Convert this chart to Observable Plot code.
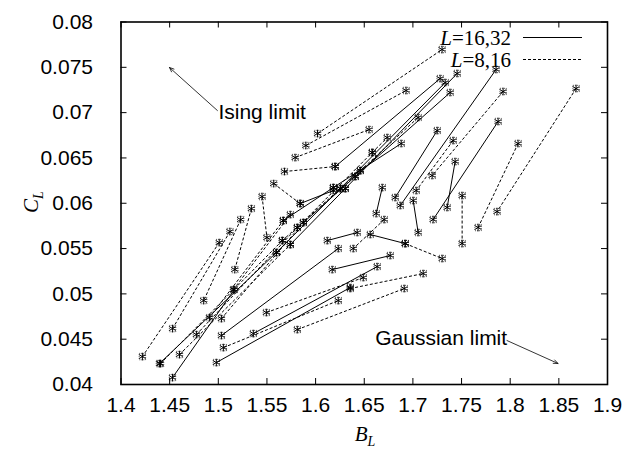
<!DOCTYPE html>
<html><head><meta charset="utf-8">
<script src="https://cdn.jsdelivr.net/npm/d3@7"></script>
<script src="https://cdn.jsdelivr.net/npm/@observablehq/plot@0.6"></script>
<style>html,body{margin:0;padding:0;background:#fff}svg{display:block}</style>
</head><body><div id="chart"></div>
<script>
// axis ticks
const xTicks = [1.4, 1.45, 1.5, 1.55, 1.6, 1.65, 1.7, 1.75, 1.8, 1.85, 1.9];
const xTickLabels = ["1.4","1.45","1.5","1.55","1.6","1.65","1.7","1.75","1.8","1.85","1.9"];
const yTicks = [0.04, 0.045, 0.05, 0.055, 0.06, 0.065, 0.07, 0.075, 0.08];
const yTickLabels = ["0.04","0.045","0.05","0.055","0.06","0.065","0.07","0.075","0.08"];

// L=8,16 pairs (dashed): [B1, C1, B2, C2]
const pairs8_16 = [
  [1.501,0.05566,1.422,0.04308],
  [1.512,0.05688,1.453,0.04617],
  [1.523,0.0582,1.485,0.04926],
  [1.534,0.05941,1.517,0.05268],
  [1.545,0.06074,1.550,0.05621],
  [1.557,0.06217,1.584,0.05997],
  [1.568,0.0635,1.620,0.06405],
  [1.579,0.06504,1.655,0.06813],
  [1.590,0.06637,1.693,0.07244],
  [1.602,0.06769,1.730,0.07696],
  [1.4406,0.04231,1.5658,0.05588],
  [1.4601,0.0433,1.574,0.05544],
  [1.4775,0.04551,1.5812,0.05732],
  [1.5032,0.04727,1.5874,0.05787],
  [1.4909,0.04738,1.5668,0.05809],
  [1.5155,0.05047,1.574,0.05875],
  [1.5658,0.05588,1.6459,0.0636],
  [1.6459,0.0636,1.7054,0.06946],
  [1.5812,0.05732,1.6582,0.0656],
  [1.6582,0.0656,1.6736,0.06725],
  [1.6705,0.0582,1.6387,0.055],
  [1.6921,0.05555,1.7301,0.0539],
  [1.6356,0.05059,1.7106,0.05224],
  [1.5812,0.04606,1.6911,0.05059],
  [1.5052,0.04407,1.6233,0.04926],
  [1.7927,0.07233,1.7198,0.06306],
  [1.7414,0.06692,1.7034,0.0614],
  [1.8677,0.07266,1.7865,0.05908],
  [1.8081,0.06659,1.767,0.05732],
  [1.7506,0.06085,1.7506,0.05555],
  [1.5494,0.04794,1.649,0.0518]
];

// L=16,32 pairs (solid): [B1, C1, B2, C2]
const pairs16_32 = [
  [1.6202,0.06405,1.728,0.07376],
  [1.5843,0.05997,1.6182,0.0614],
  [1.4395,0.04231,1.5597,0.05456],
  [1.4529,0.04076,1.5165,0.05047],
  [1.5597,0.05456,1.6254,0.06162],
  [1.6254,0.06162,1.7332,0.07332],
  [1.574,0.05544,1.6305,0.06162],
  [1.6305,0.06162,1.7455,0.07432],
  [1.5874,0.05787,1.6407,0.06295],
  [1.6407,0.06295,1.7383,0.07222],
  [1.5668,0.05809,1.6182,0.06173],
  [1.6182,0.06173,1.688,0.06659],
  [1.498,0.04242,1.6356,0.0507],
  [1.5032,0.0454,1.6233,0.055],
  [1.536,0.04562,1.6633,0.05301],
  [1.6171,0.05268,1.6767,0.05423],
  [1.612,0.05588,1.6428,0.05677],
  [1.6562,0.05655,1.6921,0.05555],
  [1.6685,0.06173,1.6623,0.05886],
  [1.7003,0.0603,1.7054,0.05677],
  [1.725,0.06802,1.6818,0.06063],
  [1.7855,0.07476,1.687,0.05975],
  [1.7876,0.06902,1.7208,0.0582],
  [1.7434,0.0646,1.7352,0.05953]
];

const annotationLabels = ["Ising limit", "Gaussian limit"];
const annotationX = [1.5001, 1.6613];
const annotationY = [0.07007, 0.04507];
// arrows: [B tail, C tail, B head, C head]
const arrowData = [
  [1.4991, 0.07023, 1.4498, 0.07498],
  [1.7967, 0.04485, 1.8491, 0.04232]
];
const legendSizes = ["16,32", "8,16"];

const W = 625, H = 449;
const mL = 120.5, mR = 18, mT = 21.5, mB = 65;
const plotW = W - mL - mR, plotH = H - mT - mB;

const points = [];
for (const s of pairs8_16.concat(pairs16_32)) {
  points.push({b: s[0], c: s[1]}, {b: s[2], c: s[3]});
}

const svg = Plot.plot({
  width: W, height: H,
  marginLeft: mL, marginRight: mR, marginTop: mT, marginBottom: mB,
  style: {fontFamily: "'Liberation Sans', Arial, sans-serif", fontSize: "21px", background: "white", color: "black"},
  x: {domain: [1.4, 1.9], label: null},
  y: {domain: [0.04, 0.08], label: null},
  marks: [
    Plot.axisX(xTicks, {tickSize: 0, tickPadding: 13, tickFormat: (d, i) => xTickLabels[i], fontSize: 21, label: null}),
    Plot.axisY(yTicks, {tickSize: 0, tickPadding: 28, tickFormat: (d, i) => yTickLabels[i], fontSize: 21, label: null}),
    Plot.tickX(xTicks, {x: d => d, insetTop: plotH - 6, stroke: "black"}),
    Plot.tickX(xTicks, {x: d => d, insetBottom: plotH - 6, stroke: "black"}),
    Plot.tickY(yTicks, {y: d => d, insetRight: plotW - 6, stroke: "black"}),
    Plot.tickY(yTicks, {y: d => d, insetLeft: plotW - 6, stroke: "black"}),
    Plot.link(pairs8_16, {x1: d => d[0], y1: d => d[1], x2: d => d[2], y2: d => d[3], stroke: "black", strokeWidth: 1, strokeDasharray: "3,2"}),
    Plot.link(pairs16_32, {x1: d => d[0], y1: d => d[1], x2: d => d[2], y2: d => d[3], stroke: "black", strokeWidth: 1}),
    Plot.dot(points, {x: "b", y: "c", symbol: "square", r: 3.6, stroke: "black", strokeWidth: 0.7, strokeDasharray: "1,1", fill: "none"}),
    Plot.dot(points, {x: "b", y: "c", symbol: "asterisk", r: 3.6, stroke: "black", strokeWidth: 1}),
    Plot.arrow(arrowData, {x1: d => d[0], y1: d => d[1], x2: d => d[2], y2: d => d[3], stroke: "black", strokeWidth: 0.8, headLength: 9, headAngle: 45}),
    Plot.text(annotationLabels, {x: (d, i) => annotationX[i], y: (d, i) => annotationY[i], text: d => d, textAnchor: "start", lineAnchor: "middle", fontSize: 21, fill: "black"}),
    Plot.frame({stroke: "black", strokeWidth: 1.6})
  ]
});

const s = d3.select(svg);
const serif = "'Liberation Serif', 'Times New Roman', serif";
// axis titles
const bt = s.append("text").attr("x", 365).attr("y", 441).attr("text-anchor", "middle")
  .attr("font-family", serif).attr("font-size", 21).attr("font-style", "italic").attr("fill", "black");
bt.append("tspan").text("B");
bt.append("tspan").attr("font-size", 14).attr("dy", 5).text("L");
const ct = s.append("text").attr("transform", "translate(38,202) rotate(-90)").attr("text-anchor", "middle")
  .attr("font-family", serif).attr("font-size", 21).attr("font-style", "italic").attr("fill", "black");
ct.append("tspan").text("C");
ct.append("tspan").attr("font-size", 14).attr("dy", 5).text("L");

// legend
legendSizes.forEach((n, i) => {
  const yBase = 45 + i * 22;
  const t = s.append("text").attr("x", 511).attr("y", yBase).attr("text-anchor", "end")
    .attr("font-family", serif).attr("font-size", 21).attr("fill", "black");
  t.append("tspan").attr("font-style", "italic").text("L");
  t.append("tspan").text("=" + n);
  s.append("line").attr("x1", 523).attr("x2", 582).attr("y1", yBase - 7.5).attr("y2", yBase - 7.5)
    .attr("stroke", "black").attr("stroke-width", i === 0 ? 1.2 : 1)
    .attr("stroke-dasharray", i === 0 ? null : "3,2");
});

document.getElementById("chart").appendChild(svg);
</script>
</body></html>
